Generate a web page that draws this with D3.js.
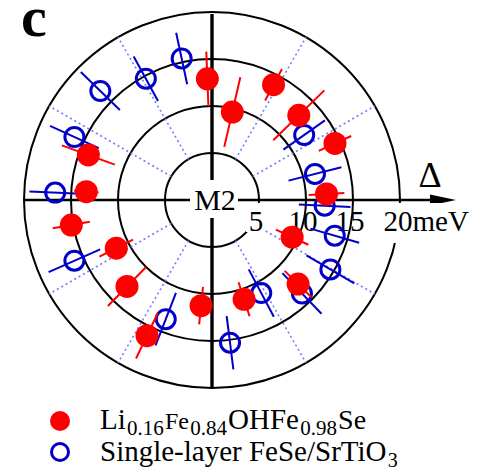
<!DOCTYPE html>
<html><head><meta charset="utf-8">
<script src="https://cdn.jsdelivr.net/npm/d3@7"></script>
<style>body{margin:0;background:#fff}svg{display:block}</style>
</head><body>
<svg id="chart" width="481" height="476"></svg>
<script>
// ---- data ----
const ringValues = [5, 10, 15, 20];
const tickLabels = ["5", "10", "15", "20meV"];
const spokeAngles = [30, 60, 120, 150, 210, 240, 300, 330];
const liAngle = [92.2, 77, 61.9, 44.3, 24.7, 3.0, -24.9, -44.3, -72.1, -95.9, -115.6, -134.5, -153.3, -169.9, 176.2, 160];
const liGap   = [12.9, 9.6, 13.9, 12.9, 14.4, 12.2, 9.4, 12.8, 11.1, 11.3, 16.0, 12.9, 11.4, 15.2, 13.4, 14.0];
const liErr   = [2.9, 3.8, 1.9, 3.8, 1.9, 1.9, 1.9, 2.0, 1.9, 2.0, 2.7, 2.9, 2.0, 2.0, 1.3, 3.0];
const stoAngle = [102.1, 118.6, 135.7, 155.4, 177.3, -156.2, -111.2, -82.8, -62.1, -46.1, -30.4, -16.2, -2.9, 14.2, 35.2];
const stoGap   = [15.4, 14.7, 16.6, 16.1, 16.7, 16.0, 13.6, 15.3, 11.2, 13.8, 14.6, 13.6, 12.0, 11.3, 12.0];
const stoErr   = [2.8, 2.7, 2.9, 2.85, 2.75, 3.0, 3.0, 2.85, 2.85, 3.0, 2.95, 2.7, 2.75, 2.9, 2.7];
const legend1Parts = ["Li", "0.16", "Fe", "0.84", "OHFe", "0.98", "Se"];
const legend2Parts = ["Single-layer FeSe/SrTiO", "3"];

// ---- setup ----
const svg = d3.select("#chart");
const cx = 212, cy = 200;
const FONT = "'Liberation Serif','Times New Roman',serif";
const r = d3.scaleLinear().domain([0, 20]).range([0, 188]);
const ang = d3.scaleLinear().domain([0, 360]).range([Math.PI / 2, Math.PI / 2 - 2 * Math.PI]);
function pos(a, v) { const p = d3.pointRadial(ang(a), r(v)); return [cx + p[0], cy + p[1]]; }

const red = "#ff0000", blue = "#0000c8";

// rings
svg.append("g").selectAll("circle").data(ringValues).join("circle")
  .attr("cx", cx).attr("cy", cy).attr("r", d => r(d))
  .attr("fill", "none").attr("stroke", "#000").attr("stroke-width", 2);

// dotted spokes
svg.append("g").selectAll("line").data(spokeAngles).join("line")
  .each(function (a) {
    const p0 = pos(a, ringValues[0]), p1 = pos(a, ringValues[3]);
    d3.select(this).attr("x1", p0[0]).attr("y1", p0[1]).attr("x2", p1[0]).attr("y2", p1[1]);
  })
  .attr("stroke", "#7878ff").attr("stroke-width", 1.6).attr("stroke-dasharray", "2,3");

// axes
svg.append("line").attr("x1", cx - r(20)).attr("y1", cy).attr("x2", 432).attr("y2", cy)
  .attr("stroke", "#000").attr("stroke-width", 2.6);
svg.append("path").attr("d", `M430,${cy - 5.5}L456,${cy}L430,${cy + 5.5}Z`).attr("fill", "#000");
svg.append("line").attr("x1", cx).attr("y1", cy - r(20) + 2).attr("x2", cx).attr("y2", cy + r(20))
  .attr("stroke", "#000").attr("stroke-width", 3.4);

// white boxes for labels
svg.append("rect").attr("x", 190).attr("y", 180).attr("width", 48).attr("height", 38).attr("fill", "#fff");
svg.append("rect").attr("x", 246).attr("y", 203).attr("width", 19).attr("height", 29).attr("fill", "#fff");
svg.append("rect").attr("x", 378).attr("y", 203).attr("width", 92).attr("height", 40).attr("fill", "#fff");

svg.append("text").attr("x", 215).attr("y", 210).attr("text-anchor", "middle")
  .attr("font-family", FONT).attr("font-size", 30).text("M2");

// tick labels
svg.append("g").selectAll("text").data(ringValues).join("text")
  .attr("x", (d, i) => i === 3 ? cx + r(d) - 2 - 14.5 : cx + r(d) - 3)
  .attr("y", 231)
  .attr("text-anchor", (d, i) => i === 3 ? "start" : "middle")
  .attr("font-family", FONT).attr("font-size", 29)
  .text((d, i) => tickLabels[i]);

// Delta label
svg.append("text").attr("x", 430).attr("y", 187).attr("text-anchor", "middle")
  .attr("font-family", FONT).attr("font-size", 36).text("Δ");

// panel letter
svg.append("text").attr("x", 21).attr("y", 36)
  .attr("font-family", FONT).attr("font-size", 58).attr("font-weight", "bold").text("c");

// ---- data series ----
function drawSeries(angles, gaps, errs, color, filled) {
  const g = svg.append("g");
  const data = angles.map((a, i) => ({ a, v: gaps[i], e: errs[i] }));
  g.selectAll("line").data(data).join("line")
    .each(function (d) {
      const p0 = pos(d.a, d.v - d.e), p1 = pos(d.a, d.v + d.e);
      d3.select(this).attr("x1", p0[0]).attr("y1", p0[1]).attr("x2", p1[0]).attr("y2", p1[1]);
    })
    .attr("stroke", color).attr("stroke-width", 2);
  g.selectAll("circle").data(data).join("circle")
    .attr("cx", d => pos(d.a, d.v)[0]).attr("cy", d => pos(d.a, d.v)[1])
    .attr("r", filled ? 11.5 : 9.5)
    .attr("fill", filled ? color : "none")
    .attr("stroke", filled ? "none" : color).attr("stroke-width", 3);
}
drawSeries(stoAngle, stoGap, stoErr, blue, false);
drawSeries(liAngle, liGap, liErr, red, true);

// ---- legend ----
svg.append("circle").attr("cx", 60).attr("cy", 421).attr("r", 10).attr("fill", red);
svg.append("circle").attr("cx", 60).attr("cy", 452).attr("r", 8.5).attr("fill", "none").attr("stroke", blue).attr("stroke-width", 3);

function runText(parts, sizes, shifts, x0, y0) {
  let x = x0;
  parts.forEach((s, i) => {
    const t = svg.append("text").attr("x", x).attr("y", y0 + shifts[i])
      .attr("font-family", FONT).attr("font-size", sizes[i]).text(s);
    x += t.node().getComputedTextLength() + 1.2;
  });
}
runText(legend1Parts, [29, 21, 24, 21, 29, 21, 28], [0, 6, 0, 6, 0, 6, 0], 100, 429);
runText(legend2Parts, [29, 20], [0, 6], 100, 461);
</script>
</body></html>
